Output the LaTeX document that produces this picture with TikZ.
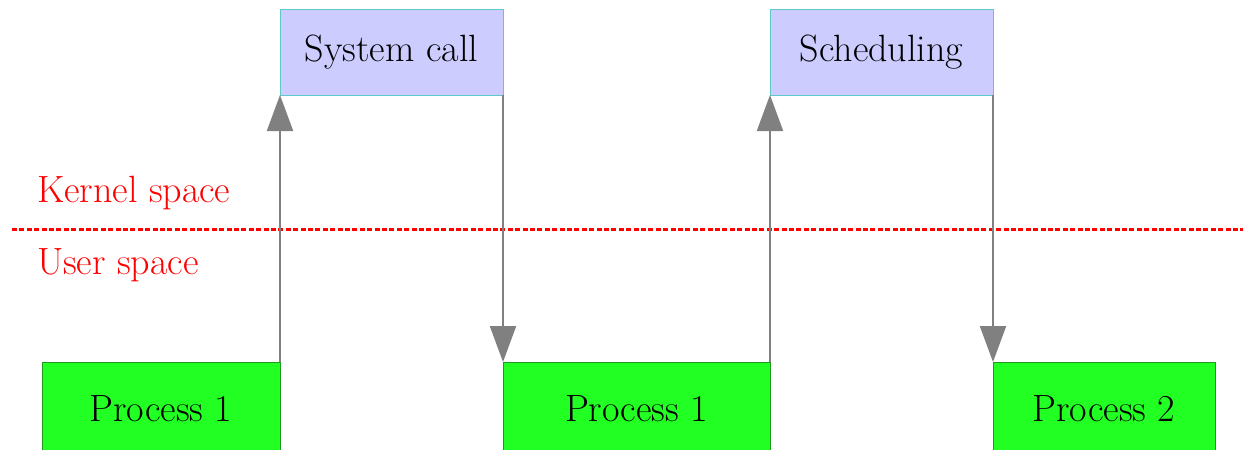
\documentclass[tikz,border=0pt]{standalone}
\usetikzlibrary{arrows.meta}
\definecolor{kernelfill}{HTML}{CCCCFF}
\definecolor{kerneldraw}{HTML}{5FC8C8}
\definecolor{userfill}{HTML}{22FF22}
\definecolor{userdraw}{HTML}{1E9A1E}
\definecolor{flow}{HTML}{808080}
\begin{document}
\begin{tikzpicture}[x=0.5pt,y=-0.5pt,
  every node/.style={font=\fontsize{19}{23}\selectfont,inner sep=0pt,outer sep=0pt},
  kernelbox/.style={draw=kerneldraw,line width=0.5pt,fill=kernelfill,anchor=north west,minimum height=43pt},
  userbox/.style={draw=userdraw,line width=0.5pt,fill=userfill,anchor=north west,minimum height=46.5pt},
  flowarrow/.style={draw=flow,line width=1pt,-{Triangle[length=18pt,width=13pt]}},
  space/.style={text=red,anchor=west}]
\clip (0,0) rectangle (1243,450);
\fill[white] (0,0) rectangle (1243,450);
\node[kernelbox,minimum width=111.5pt] (syscall) at (280,9) {System call};
\node[kernelbox,minimum width=111.5pt] (sched) at (770,9) {Scheduling};
\node[userbox,minimum width=119pt] (proc1a) at (42,362) {Process 1};
\node[userbox,minimum width=133.5pt] (proc1b) at (503,362) {Process 1};
\node[userbox,minimum width=111pt] (proc2) at (993,362) {Process 2};
\coordinate (splitw) at (12,229);
\coordinate (splite) at (1243,229);
\draw[red,line width=1.5pt,dash pattern=on 2.5pt off 1.2pt] (splitw) -- (splite);
\node[space] (kernel) at (37,193) {Kernel space};
\node[space] (user) at (37,265) {User space};
\draw[flowarrow] (proc1a.north east) -- (syscall.south west);
\draw[flowarrow] (syscall.south east) -- (proc1b.north west);
\draw[flowarrow] (proc1b.north east) -- (sched.south west);
\draw[flowarrow] (sched.south east) -- (proc2.north west);
\end{tikzpicture}
\end{document}
